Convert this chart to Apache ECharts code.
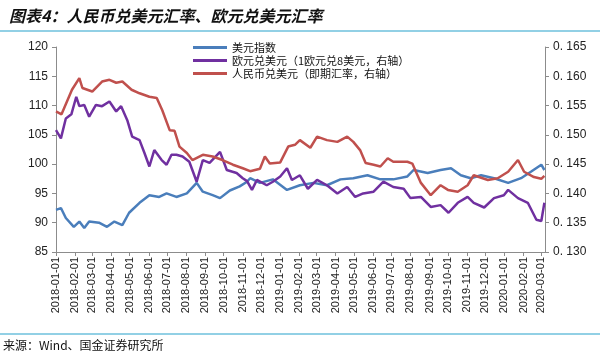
<!DOCTYPE html>
<html><head><meta charset="utf-8">
<script src="https://cdn.jsdelivr.net/npm/echarts@6/dist/echarts.min.js"></script>
<style>html,body{margin:0;padding:0;background:#fff}#c{width:600px;height:357px}</style>
</head><body><div id="c"></div>
<script>
const titleText = '图表4：人民币兑美元汇率、欧元兑美元汇率';
const sourceText = '来源：Wind、国金证券研究所';
const seriesNames = ['美元指数', '欧元兑美元（1欧元兑8美元，右轴）', '人民币兑美元（即期汇率，右轴）'];
const tickLabels = ['2018-01-01','2018-02-01','2018-03-01','2018-04-01','2018-05-01','2018-06-01','2018-07-01','2018-08-01','2018-09-01','2018-10-01','2018-11-01','2018-12-01','2019-01-01','2019-02-01','2019-03-01','2019-04-01','2019-05-01','2019-06-01','2019-07-01','2019-08-01','2019-09-01','2019-10-01','2019-11-01','2019-12-01','2020-01-01','2020-02-01','2020-03-01'];

const usdDates = ['2018-01-01','2018-01-09','2018-01-17','2018-01-30','2018-02-08','2018-02-16','2018-02-24','2018-03-12','2018-03-25','2018-04-06','2018-04-19','2018-04-30','2018-05-17','2018-06-02','2018-06-18','2018-06-30','2018-07-16','2018-08-02','2018-08-18','2018-08-28','2018-09-13','2018-09-25','2018-10-11','2018-10-27','2018-11-08','2018-11-13','2018-11-29','2018-12-20','2019-01-12','2019-02-02','2019-02-24','2019-03-18','2019-04-09','2019-04-30','2019-05-23','2019-06-13','2019-07-04','2019-07-27','2019-08-06','2019-08-29','2019-09-19','2019-10-06','2019-10-22','2019-11-07','2019-11-24','2019-12-15','2020-01-07','2020-01-28','2020-02-13','2020-03-01','2020-03-06'];
const usdIndex = [92.2,92.5,90.8,89.3,90.2,89.1,90.2,90.0,89.3,90.2,89.6,91.7,93.4,94.7,94.4,95.0,94.4,95.0,96.8,95.3,94.7,94.2,95.5,96.2,97.0,97.6,96.8,97.4,95.6,96.4,96.8,96.4,97.4,97.6,98.1,97.4,97.4,97.9,99.0,98.5,99.0,99.3,98.1,97.6,98.1,97.6,96.8,97.6,98.7,99.9,99.0];

const eurDates = ['2018-01-01','2018-01-09','2018-01-17','2018-01-26','2018-02-03','2018-02-08','2018-02-16','2018-02-24','2018-03-07','2018-03-17','2018-03-29','2018-04-09','2018-04-17','2018-04-27','2018-05-05','2018-05-17','2018-05-25','2018-06-02','2018-06-10','2018-06-22','2018-06-30','2018-07-08','2018-07-16','2018-07-26','2018-08-06','2018-08-18','2018-08-28','2018-09-08','2018-09-25','2018-10-06','2018-10-22','2018-11-01','2018-11-08','2018-11-16','2018-11-24','2018-12-10','2018-12-20','2019-01-01','2019-01-12','2019-01-20','2019-02-02','2019-02-15','2019-03-02','2019-03-18','2019-04-04','2019-04-20','2019-05-03','2019-05-16','2019-06-02','2019-06-18','2019-07-04','2019-07-21','2019-08-01','2019-08-18','2019-09-03','2019-09-19','2019-10-02','2019-10-17','2019-11-02','2019-11-12','2019-11-29','2019-12-15','2019-12-31','2020-01-07','2020-01-23','2020-02-08','2020-02-22','2020-03-01','2020-03-06'];
const eurUsd = [0.1508,0.1494,0.1528,0.1535,0.1565,0.1549,0.1551,0.1531,0.1551,0.1549,0.1557,0.1540,0.1549,0.1525,0.1497,0.1491,0.1469,0.1446,0.1474,0.1457,0.1449,0.1466,0.1466,0.1463,0.1454,0.1420,0.1457,0.1452,0.1471,0.1440,0.1435,0.1426,0.1421,0.1406,0.1423,0.1414,0.1420,0.1429,0.1443,0.1423,0.1431,0.1408,0.1423,0.1414,0.1400,0.1411,0.1394,0.1400,0.1403,0.1420,0.1411,0.1408,0.1392,0.1394,0.1377,0.1380,0.1367,0.1384,0.1394,0.1384,0.1376,0.1392,0.1397,0.1406,0.1392,0.1384,0.1355,0.1353,0.1384];

const cnyDates = ['2018-01-01','2018-01-10','2018-01-27','2018-02-08','2018-02-13','2018-03-01','2018-03-17','2018-03-29','2018-04-09','2018-04-19','2018-05-04','2018-05-17','2018-06-02','2018-06-14','2018-06-23','2018-07-05','2018-07-13','2018-07-21','2018-08-02','2018-08-11','2018-08-28','2018-09-13','2018-09-29','2018-10-16','2018-11-01','2018-11-13','2018-11-29','2018-12-07','2018-12-15','2019-01-01','2019-01-14','2019-01-25','2019-02-02','2019-02-19','2019-03-02','2019-03-18','2019-04-04','2019-04-20','2019-04-30','2019-05-11','2019-05-20','2019-06-02','2019-06-13','2019-06-25','2019-07-04','2019-07-27','2019-08-04','2019-08-18','2019-09-03','2019-09-19','2019-10-01','2019-10-17','2019-11-02','2019-11-12','2019-12-05','2019-12-21','2020-01-07','2020-01-23','2020-02-02','2020-02-18','2020-03-01','2020-03-06'];
const cnyUsd = [0.1540,0.1535,0.1577,0.1597,0.1580,0.1574,0.1591,0.1594,0.1589,0.1591,0.1577,0.1571,0.1565,0.1563,0.1542,0.1508,0.1507,0.1480,0.1469,0.1457,0.1466,0.1463,0.1457,0.1449,0.1443,0.1438,0.1442,0.1463,0.1451,0.1453,0.1480,0.1483,0.1491,0.1478,0.1497,0.1491,0.1488,0.1497,0.1488,0.1474,0.1452,0.1449,0.1446,0.1460,0.1454,0.1454,0.1451,0.1418,0.1397,0.1414,0.1406,0.1403,0.1414,0.1431,0.1423,0.1426,0.1437,0.1457,0.1437,0.1428,0.1425,0.1430];

const toTime = s => +echarts.number.parseDate(s);
const pair = (d, v) => d.map((x, i) => [toTime(x), v[i]]);
const tickTimes = tickLabels.map(toTime);
const labelByTime = {};
tickTimes.forEach((t, i) => labelByTime[t] = tickLabels[i]);

const chart = echarts.init(document.getElementById('c'), null, {renderer: 'canvas'});
const fontFam = '"Liberation Sans", Arial, "Noto Sans CJK SC", sans-serif';
chart.setOption({
  animation: false,
  backgroundColor: '#fff',
  title: {
    text: titleText, left: 4, top: 3,
    textStyle: {fontFamily: '"Noto Sans CJK SC", sans-serif', fontSize: 16, fontWeight: 'bold', fontStyle: 'italic', color: '#111'}
  },
  graphic: [
    {type: 'line', shape: {x1: 0, y1: 31, x2: 600, y2: 31}, style: {stroke: '#6ec1dd', lineWidth: 1.5}},
    {type: 'line', shape: {x1: 0, y1: 334, x2: 600, y2: 334}, style: {stroke: '#6ec1dd', lineWidth: 1.5}},
    {type: 'text', left: 3, top: 339, style: {text: sourceText, font: '12px "Noto Sans CJK SC", sans-serif', fill: '#111'}}
  ],
  legend: {
    orient: 'vertical', left: 188, top: 37, itemWidth: 34, itemHeight: 3, itemGap: 2, icon: 'rect',
    textStyle: {fontFamily: '"Noto Sans CJK SC", sans-serif', fontSize: 11, color: '#111'},
    data: seriesNames
  },
  grid: {left: 56, right: 55, top: 47, bottom: 105, containLabel: false},
  xAxis: {
    type: 'value',
    min: tickTimes[0], max: toTime('2020-03-07'),
    axisLine: {onZero: false, lineStyle: {color: '#8c8c8c', width: 1}},
    axisTick: {show: true, customValues: tickTimes, length: 4, lineStyle: {color: '#8c8c8c'}},
    axisLabel: {
      customValues: tickTimes, rotate: 90, fontSize: 11, color: '#222', fontFamily: fontFam, margin: 5,
      formatter: v => labelByTime[v] || ''
    },
    splitLine: {show: false}
  },
  yAxis: [
    {
      type: 'value', min: 85, max: 120, interval: 5,
      axisLine: {show: true, lineStyle: {color: '#8c8c8c'}},
      axisTick: {show: true, length: 4, lineStyle: {color: '#8c8c8c'}},
      axisLabel: {fontSize: 12, color: '#222', fontFamily: fontFam, margin: 8},
      splitLine: {show: false}
    },
    {
      type: 'value', min: 0.130, max: 0.165, interval: 0.005,
      axisLine: {show: true, lineStyle: {color: '#8c8c8c'}},
      axisTick: {show: true, length: 4, lineStyle: {color: '#8c8c8c'}},
      axisLabel: {fontSize: 12, color: '#222', fontFamily: fontFam, margin: 8,
        formatter: v => v.toFixed(3).replace('.', '. ')},
      splitLine: {show: false}
    }
  ],
  series: [
    {name: seriesNames[0], type: 'line', yAxisIndex: 0, data: pair(usdDates, usdIndex), showSymbol: false, symbol: 'none',
      lineStyle: {color: '#4a7ebb', width: 2.5}, itemStyle: {color: '#4a7ebb'}},
    {name: seriesNames[1], type: 'line', yAxisIndex: 1, data: pair(eurDates, eurUsd), showSymbol: false, symbol: 'none',
      lineStyle: {color: '#7030a0', width: 2.5}, itemStyle: {color: '#7030a0'}},
    {name: seriesNames[2], type: 'line', yAxisIndex: 1, data: pair(cnyDates, cnyUsd), showSymbol: false, symbol: 'none',
      lineStyle: {color: '#c0504d', width: 2.5}, itemStyle: {color: '#c0504d'}}
  ]
});
</script></body></html>
